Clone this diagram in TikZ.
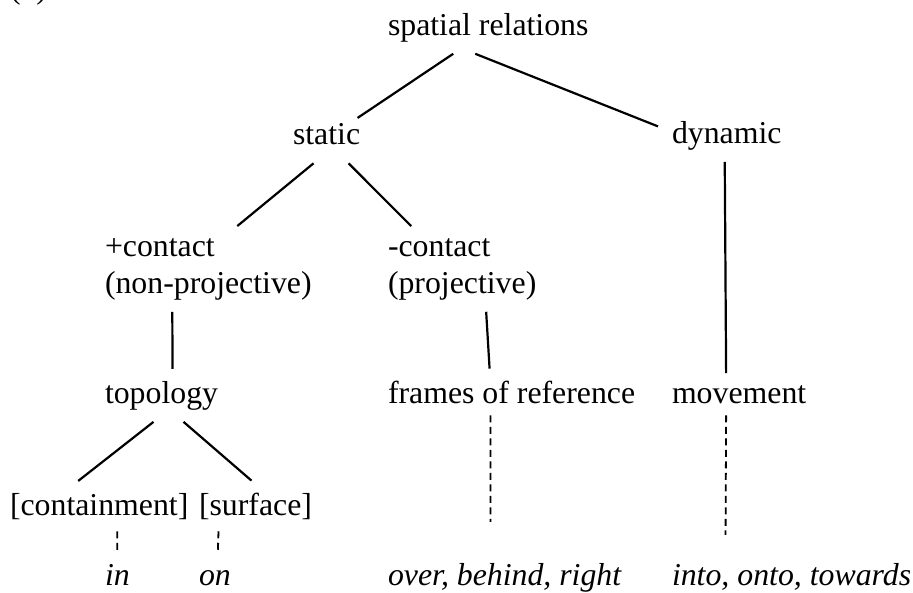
\documentclass[tikz,border=0pt]{standalone}
\usepackage{fontspec}
\setmainfont{Liberation Serif}
\usepackage{tikz}

\begin{document}
\begin{tikzpicture}[x=1pt, y=-1pt,
                    word/.style={anchor=base west, inner sep=0pt, outer xsep=0pt,
                                 outer ysep=12pt, align=left,
                                 font=\fontsize{31.8}{37}\selectfont},
                    branch/.style={line width=2.2pt},
                    hint/.style={line width=1.8pt, dash pattern=on 7pt off 4.5pt}]
\useasboundingbox (0,0) rectangle (913,592);
\node[word] (tag) at (10,-2)  {(b)};
\node[word] (sr)  at (388,35) {spatial relations};
\node[word] (st)  at (293,144) {static};
\node[word] (dy)  at (672,143) {dynamic};
\node[word] (pc)  at (105,293) {+contact\\(non-projective)};
\node[word] (mc)  at (388,293) {-contact\\(projective)};
\node[word] (tp)  at (105,403) {topology};
\node[word] (fr)  at (388,403) {frames of reference};
\node[word] (mv)  at (672,403) {movement};
\node[word] (cn)  at (10,515)  {[containment]};
\node[word] (sf)  at (199,515) {[surface]};
\node[word] (inw) at (105,585) {\itshape in};
\node[word] (onw) at (199,585) {\itshape on};
\node[word] (ov)  at (388,585) {\itshape over, behind, right};
\node[word] (it)  at (672,585) {\itshape into, onto, towards};
% tree branches
\draw[branch] ([xshift=-35pt]sr.south) -- ([xshift=31pt,yshift=-7pt]st.north);
\draw[branch] ([xshift=-13pt]sr.south) -- ([xshift=-14pt,yshift=9pt]dy.west);
\draw[branch] ([xshift=-13pt,yshift=-7pt]st.south) -- ([xshift=29pt]pc.north);
\draw[branch] ([xshift=22pt,yshift=-7pt]st.south) -- ([xshift=-51pt]mc.north);
\draw[branch] ([xshift=-36pt]pc.south) -- ([xshift=11pt]tp.north);
\draw[branch] ([xshift=24pt]mc.south) -- ([xshift=-22pt]fr.north);
\draw[branch] ([xshift=-2pt]dy.south) -- ([xshift=-13pt]mv.north);
\draw[branch] ([xshift=-8pt]tp.south) -- ([xshift=-21pt]cn.north);
\draw[branch] ([xshift=22pt]tp.south) -- ([xshift=-4pt]sf.north);
% examples
\draw[hint] ([xshift=-21pt]fr.south) -- ([xshift=-14pt,yshift=29pt]ov.north);
\draw[hint] ([xshift=-13pt]mv.south) -- ([xshift=-66pt,yshift=16pt]it.north);
\draw[hint] ([xshift=18pt]cn.south) -- (inw.north);
\draw[hint] ([xshift=-37pt]sf.south) -- ([xshift=3pt,yshift=7pt]onw.north);
\end{tikzpicture}
\end{document}
